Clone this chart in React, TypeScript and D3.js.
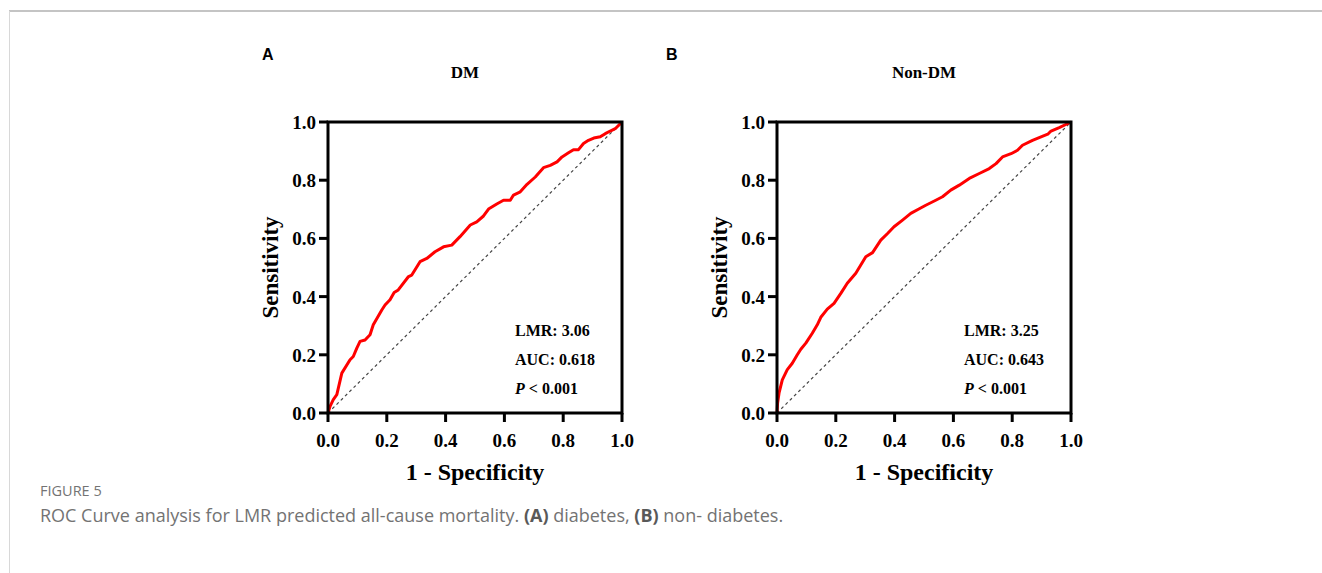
import React from 'react';
import * as d3 from 'd3';

// ROC points (1 - specificity, sensitivity)
const dmFpr = [0, 0.007, 0.018, 0.03, 0.047, 0.075, 0.086, 0.098, 0.109, 0.126, 0.143, 0.154, 0.183, 0.194, 0.211, 0.225, 0.239, 0.274, 0.285, 0.313, 0.336, 0.364, 0.393, 0.421, 0.449, 0.484, 0.506, 0.529, 0.546, 0.574, 0.597, 0.62, 0.631, 0.654, 0.677, 0.705, 0.733, 0.756, 0.779, 0.796, 0.818, 0.835, 0.852, 0.869, 0.886, 0.904, 0.926, 0.943, 0.96, 0.977, 1];
const dmTpr = [0, 0.023, 0.046, 0.063, 0.137, 0.183, 0.194, 0.223, 0.246, 0.251, 0.269, 0.303, 0.354, 0.371, 0.389, 0.414, 0.423, 0.469, 0.474, 0.52, 0.531, 0.554, 0.571, 0.577, 0.606, 0.646, 0.657, 0.677, 0.701, 0.718, 0.731, 0.731, 0.749, 0.76, 0.786, 0.811, 0.843, 0.851, 0.863, 0.88, 0.894, 0.905, 0.905, 0.926, 0.937, 0.945, 0.949, 0.96, 0.969, 0.977, 1];

const nonDmFpr = [0, 0.002, 0.007, 0.018, 0.035, 0.052, 0.069, 0.081, 0.098, 0.12, 0.137, 0.149, 0.171, 0.194, 0.217, 0.239, 0.268, 0.302, 0.325, 0.353, 0.376, 0.398, 0.427, 0.455, 0.484, 0.506, 0.54, 0.563, 0.591, 0.62, 0.654, 0.688, 0.722, 0.745, 0.767, 0.796, 0.818, 0.835, 0.869, 0.898, 0.921, 0.932, 0.96, 1];
const nonDmTpr = [0, 0.034, 0.069, 0.114, 0.149, 0.171, 0.2, 0.219, 0.24, 0.274, 0.303, 0.329, 0.357, 0.377, 0.411, 0.446, 0.48, 0.537, 0.551, 0.594, 0.617, 0.64, 0.663, 0.686, 0.702, 0.714, 0.731, 0.743, 0.766, 0.783, 0.806, 0.823, 0.84, 0.857, 0.88, 0.891, 0.903, 0.92, 0.937, 0.949, 0.958, 0.969, 0.981, 1];

const ticks = [0, 0.2, 0.4, 0.6, 0.8, 1.0];

const panels = [
  { letter: 'A', title: 'DM', fpr: dmFpr, tpr: dmTpr, lines: ['LMR: 3.06', 'AUC: 0.618'], left: 328, letterDx: -66, titleShift: -10 },
  { letter: 'B', title: 'Non-DM', fpr: nonDmFpr, tpr: nonDmTpr, lines: ['LMR: 3.25', 'AUC: 0.643'], left: 777, letterDx: -111, titleShift: 0 },
];

const W = 294;
const H = 291;
const TOP = 122;
const serif = '"Liberation Serif", "Times New Roman", serif';
const sans = '"Open Sans", "Noto Sans", sans-serif';

const Panel = ({ p }: { p: typeof panels[0] }) => {
  const x = d3.scaleLinear().domain([0, 1]).range([0, W]);
  const y = d3.scaleLinear().domain([0, 1]).range([H, 0]);
  const pts = p.fpr.map((f, i) => [f, p.tpr[i]] as [number, number]);
  const line = d3.line<[number, number]>().x(d => x(d[0])).y(d => y(d[1]));

  return (
    <g transform={`translate(${p.left},${TOP})`}>
      <text x={p.letterDx} y={-62} fontFamily='"Liberation Sans", Arial, sans-serif' fontWeight="bold" fontSize={16}>{p.letter}</text>
      <text x={W / 2 + p.titleShift} y={-44} textAnchor="middle" fontFamily={serif} fontWeight="bold" fontSize={17}>{p.title}</text>
      <line x1={x(0)} y1={y(0)} x2={x(1)} y2={y(1)} stroke="#444" strokeWidth={1.2} strokeDasharray="3,3" />
      <path d={line(pts) || ''} fill="none" stroke="#ff0000" strokeWidth={3} strokeLinejoin="round" />
      <rect x={0} y={0} width={W} height={H} fill="none" stroke="#000" strokeWidth={3} />
      {ticks.map(t => (
        <g key={'y' + t}>
          <line x1={-9} x2={0} y1={y(t)} y2={y(t)} stroke="#000" strokeWidth={3} />
          <text x={-12} y={y(t) + 7} textAnchor="end" fontFamily={serif} fontWeight="bold" fontSize={19}>{t.toFixed(1)}</text>
        </g>
      ))}
      {ticks.map(t => (
        <g key={'x' + t}>
          <line x1={x(t)} x2={x(t)} y1={H} y2={H + 9} stroke="#000" strokeWidth={3} />
          <text x={x(t)} y={H + 34} textAnchor="middle" fontFamily={serif} fontWeight="bold" fontSize={19}>{t.toFixed(1)}</text>
        </g>
      ))}
      <text x={W / 2} y={H + 67} textAnchor="middle" fontFamily={serif} fontWeight="bold" fontSize={24}>1 - Specificity</text>
      <text transform={`translate(${-50},${H / 2}) rotate(-90)`} textAnchor="middle" fontFamily={serif} fontWeight="bold" fontSize={23}>Sensitivity</text>
      {p.lines.map((l, i) => (
        <text key={l} x={187} y={214 + i * 29} fontFamily={serif} fontWeight="bold" fontSize={16}>{l}</text>
      ))}
      <text x={187} y={214 + 2 * 29} fontFamily={serif} fontWeight="bold" fontSize={16}>
        <tspan fontStyle="italic">P</tspan> &lt; 0.001
      </text>
    </g>
  );
};

export default function App() {
  return (
    <svg width={1322} height={573} style={{ position: 'absolute', left: 0, top: 0, background: '#fff' }}>
      <line x1={9} x2={1322} y1={11} y2={11} stroke="#c4c4c4" strokeWidth={2} />
      <line x1={9.5} x2={9.5} y1={11} y2={573} stroke="#d8d8d8" strokeWidth={1} />
      {panels.map(p => <Panel key={p.letter} p={p} />)}
      <text x={40} y={496} fontFamily={sans} fontSize={14.5} fill="#737373">FIGURE 5</text>
      <text x={40} y={522} fontFamily={sans} fontSize={18} fill="#737373">
        ROC Curve analysis for LMR predicted all-cause mortality. <tspan fontWeight="bold" fill="#595959">(A)</tspan> diabetes, <tspan fontWeight="bold" fill="#595959">(B)</tspan> non- diabetes.
      </text>
    </svg>
  );
}
